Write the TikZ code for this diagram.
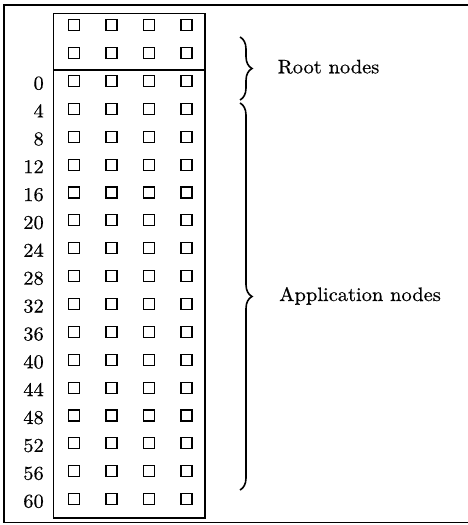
\documentclass[tikz,border=0pt]{standalone}
\usepackage{fontspec}
\setmainfont{lmroman10-regular.otf}[FakeStretch=1.05, FakeBold=0.5]
\usetikzlibrary{decorations.pathreplacing}
\begin{document}
\begin{tikzpicture}[x=1pt,y=-1pt,
  cell/.style={draw, line width=1.1pt, minimum size=11pt, inner sep=0pt},
  frame/.style={line width=1.4pt},
  lbl/.style={font=\fontsize{19.5}{22}\selectfont, inner sep=0pt},
  bracepath/.style={decorate, decoration={brace, amplitude=12pt}, line width=1.6pt}]
\useasboundingbox (0,0) rectangle (468,525);
% outer frame (open on the right)
\draw[frame] (468,5) -- (4,5) -- (4,522.5) -- (468,522.5);
% node array with the root rows separated
\draw[frame] (53.5,13.5) rectangle (205,518);
\draw[frame] (53.5,70) -- (205,70);
\foreach \i in {0,...,17}{
  \foreach \j in {0,...,3}{
    \node[cell] (c-\i-\j) at ({74+37.5*\j},{25.3+27.87*\i}) {};
  }
}
% row addresses
\foreach \i in {2,...,17}{
  \pgfmathtruncatemacro\n{4*(\i-2)}
  \node[lbl, anchor=base east] (n\n) at (44,{33.8+27.87*\i}) {\n};
}
% braces and their captions
\coordinate (rt) at (240,37);
\coordinate (rb) at (240,100);
\coordinate (at) at (240,103);
\coordinate (ab) at (240,490);
\draw[bracepath] (rt) -- (rb);
\draw[bracepath] (at) -- (ab);
\node[lbl, anchor=base west] (root) at (277.5,73.3) {Root nodes};
\node[lbl, anchor=base west] (app) at (279,301) {Application nodes};
\end{tikzpicture}
\end{document}
